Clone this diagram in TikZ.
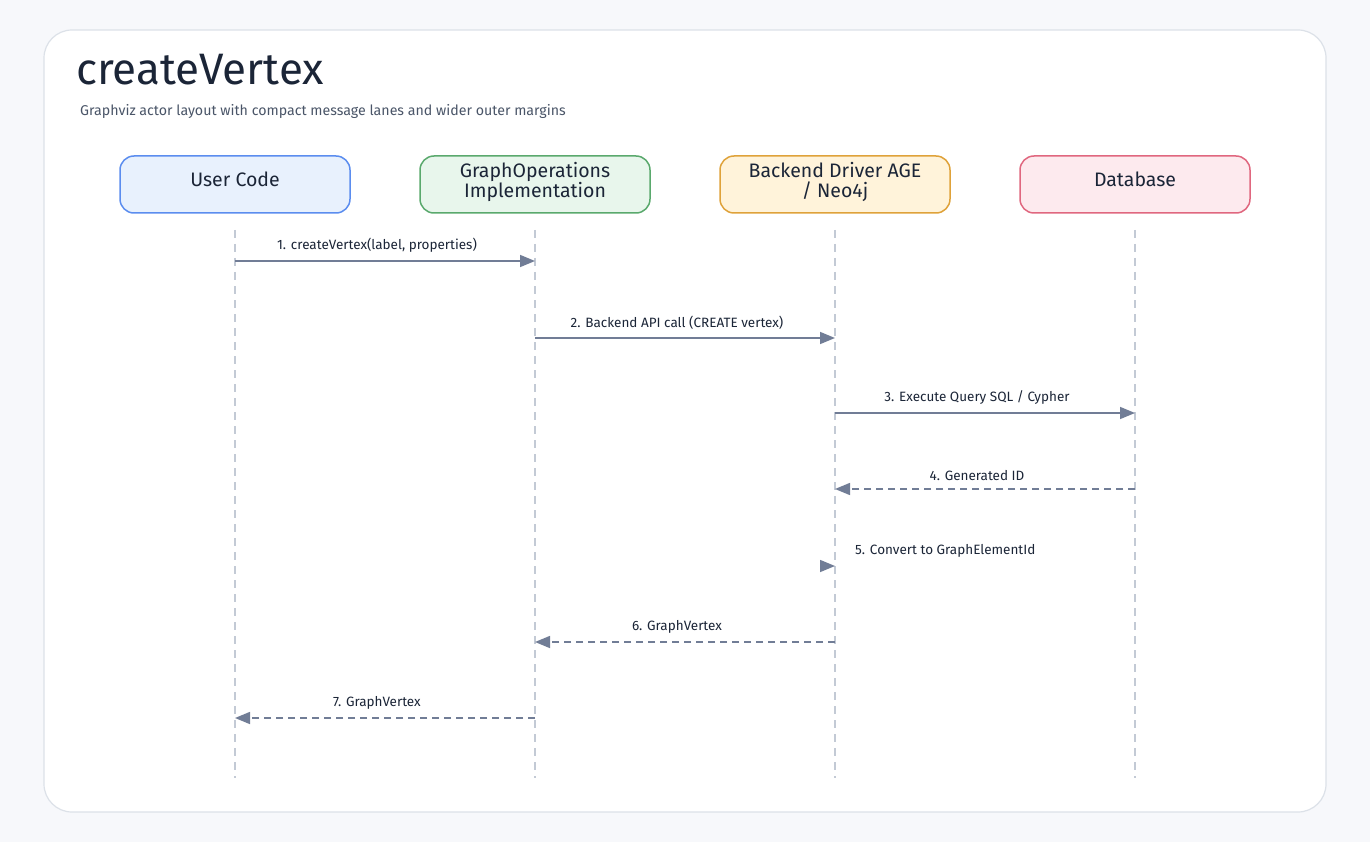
\documentclass[tikz,border=0pt]{standalone}
\usepackage{fontspec}
\setmainfont{Fira Sans}
\usetikzlibrary{positioning, arrows.meta}

\definecolor{pagebg}{HTML}{F7F8FB}
\definecolor{cardline}{HTML}{DCE1E8}
\definecolor{titlecol}{HTML}{1B2537}
\definecolor{subcol}{HTML}{4A5568}
\definecolor{msgcol}{HTML}{717D96}
\definecolor{lifecol}{HTML}{C3CAD5}
\definecolor{userline}{HTML}{5B8DEF}
\definecolor{userfill}{HTML}{E8F1FD}
\definecolor{opsline}{HTML}{5AA96D}
\definecolor{opsfill}{HTML}{E8F6EC}
\definecolor{backline}{HTML}{DFA23A}
\definecolor{backfill}{HTML}{FFF3DA}
\definecolor{dbline}{HTML}{E0677F}
\definecolor{dbfill}{HTML}{FDEAEE}

\tikzset{
  actor/.style={draw, rounded corners=14pt, line width=1.5pt, minimum width=230pt,
    minimum height=57pt, align=center, font=\fontsize{19.5}{20}\selectfont, text=titlecol,
    execute at end node={\rule[-10pt]{0pt}{10pt}}},
  life/.style={lifecol, line width=1.2pt, dash pattern=on 8pt off 6pt},
  msg/.style={msgcol, line width=1.5pt, -{Triangle[length=15pt, width=12pt]}},
  reply/.style={msg, dash pattern=on 7pt off 5pt},
  lbl/.style={above=8pt, xshift=-8pt, font=\fontsize{13.5}{14}\selectfont, text=titlecol}
}

\begin{document}
\begin{tikzpicture}[x=1pt, y=-1pt, every node/.style={inner sep=0pt}]
  % page and card
  \fill[pagebg] (0,0) rectangle (1370,842);
  \useasboundingbox (0,0) rectangle (1370,842);
  \draw[cardline, fill=white, line width=1.2pt, rounded corners=28pt] (44,30) rectangle (1326,812);

  % heading
  \node[anchor=base west, font=\fontsize{44}{48}\selectfont, text=titlecol] (title) at (76,85) {createVertex};
  \node[anchor=west, font=\fontsize{14.2}{16}\selectfont, text=subcol] (subtitle) at (80,111)
    {Graphviz actor layout with compact message lanes and wider outer margins};

  % actors
  \node[actor, draw=userline, fill=userfill] (user) at (235,184.5) {User Code};
  \node[actor, draw=opsline, fill=opsfill] (ops) at (535,184.5) {GraphOperations\\Implementation};
  \node[actor, draw=backline, fill=backfill] (backend) at (835,184.5) {Backend Driver AGE\\/ Neo4j};
  \node[actor, draw=dbline, fill=dbfill] (db) at (1135,184.5) {Database};

  % lifelines and message points
  \foreach \n/\x in {user/235, ops/535, backend/835, db/1135} {
    \coordinate (\n-top) at (\x,230);
    \coordinate (\n-bot) at (\x,778);
    \draw[life] (\n-top) -- (\n-bot);
    \foreach \k/\y in {1/261, 2/338, 3/413, 4/489, 5/566, 6/642, 7/718}
      \coordinate (\n-\k) at (\x,\y);
  }
  \coordinate (self-5) at (820,566);

  % messages
  \draw[msg] (user-1) -- node[lbl] (m1) {1. createVertex(label, properties)} (ops-1);
  \draw[msg] (ops-2) -- node[lbl] (m2) {2. Backend API call (CREATE vertex)} (backend-2);
  \draw[msg] (backend-3) -- node[lbl] (m3) {3. Execute Query SQL / Cypher} (db-3);
  \draw[reply] (db-4) -- node[lbl] (m4) {4. Generated ID} (backend-4);
  \draw[msg] (self-5) -- (backend-5);
  \node[anchor=west, font=\fontsize{13.5}{14}\selectfont, text=titlecol] (m5) at (855,551) {5. Convert to GraphElementId};
  \draw[reply] (backend-6) -- node[lbl] (m6) {6. GraphVertex} (ops-6);
  \draw[reply] (ops-7) -- node[lbl] (m7) {7. GraphVertex} (user-7);
\end{tikzpicture}
\end{document}
